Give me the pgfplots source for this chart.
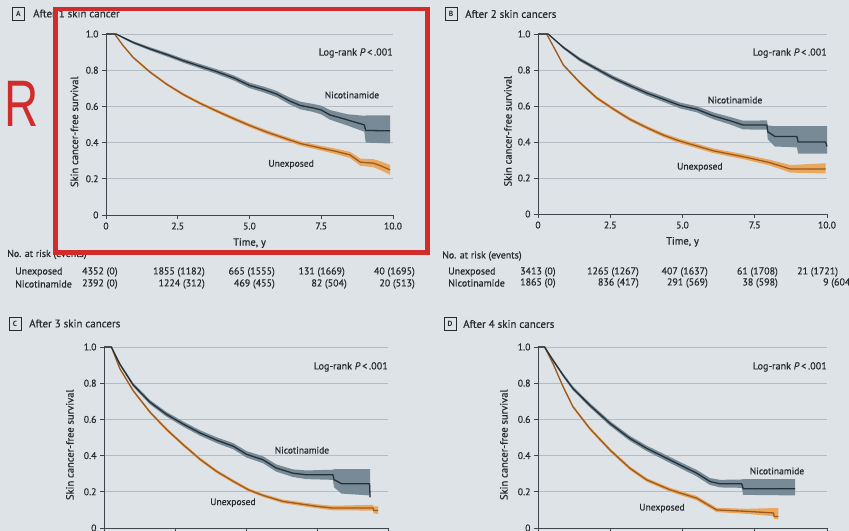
\documentclass[border=0pt]{standalone}
\usepackage{pgfplots}
\pgfplotsset{compat=1.18}
\usepackage{fontspec}
\setmainfont{PT Sans}
\newfontfamily\semib{PT Sans}[FakeBold=0.6]
\newfontfamily\rfont{Liberation Sans}
\definecolor{bgc}{HTML}{DEE3E8}
\definecolor{gridc}{HTML}{B4BBC2}
\definecolor{axisc}{HTML}{40454B}
\definecolor{textc}{HTML}{262B30}
\definecolor{nicline}{HTML}{25313A}
\definecolor{nicband}{HTML}{788A96}
\definecolor{unexline}{HTML}{9B5B23}
\definecolor{unexband}{HTML}{EAA85E}
\definecolor{redc}{HTML}{D22B2B}

\pgfplotsset{
  kmaxis/.style={
    scale only axis, height=181bp,
    xmin=0, xmax=10, ymin=0, ymax=1,
    axis lines=left,
    axis line style={-, draw=axisc, line width=0.8bp},
    xtick={0,2.5,5,7.5,10}, xticklabels={0,2.5,5.0,7.5,10.0},
    ytick={0,0.2,0.4,0.6,0.8,1}, yticklabels={0,0.2,0.4,0.6,0.8,1.0},
    tick align=outside, major tick length=4bp,
    tick style={draw=axisc, line width=0.8bp},
    ymajorgrids, grid style={draw=gridc, line width=0.8bp},
    /pgf/number format/assume math mode=true,
    ticklabel style={font=\semib\fontsize{9.8}{11}\selectfont, text=textc},
    xlabel={Time, y}, ylabel={Skin cancer-free survival},
    label style={font=\semib\fontsize{10.6}{12}\selectfont, text=textc},
    xlabel style={at={(axis description cs:0.5,-0.155)}, anchor=center},
    ylabel style={at={(axis description cs:-0.11,0.46)}, anchor=center},
    clip=false,
  },
  lowpanel/.style={xticklabels={}, xlabel={}},
  nb/.style={fill=nicband, draw=none, forget plot},
  ub/.style={fill=unexband, draw=none, forget plot},
  nl/.style={nicline, line width=1.3bp, line join=round},
  ul/.style={unexline, line width=1.3bp, line join=round},
}
\tikzset{
  curvetxt/.style={font=\semib\fontsize{9.6}{11}\selectfont, text=textc, inner sep=0pt},
  lrtxt/.style={font=\semib\fontsize{10.2}{11}\selectfont, text=textc, inner sep=0pt, anchor=east},
  pbox/.style={draw=textc, line width=0.8bp, minimum width=12bp, minimum height=13bp, inner sep=0pt, font=\fontsize{7.5}{8}\selectfont\bfseries, text=textc},
  ptitle/.style={anchor=west, inner sep=0pt, font=\semib\fontsize{11}{12}\selectfont, text=textc},
  rtxt/.style={inner sep=0pt, font=\semib\fontsize{10}{11}\selectfont, text=textc},
}

\begin{document}
\begin{tikzpicture}
\fill[bgc] (0,0) rectangle (849bp,531bp);

% ---------- Panel A
\begin{axis}[kmaxis, width=287bp, at={(106bp,316bp)}, anchor=south west]
% Nicotinamide 95% CI (upper then lower)
\addplot[nb] coordinates {(0,1) (0.35,1) (0.6,0.985) (0.95,0.960) (1.53,0.927) (2.12,0.896) (2.7,0.863) (3.28,0.834) (3.86,0.805) (4.44,0.772) (5.0,0.731) (5.5,0.709) (5.95,0.685) (6.4,0.649) (6.77,0.626) (7.2,0.614) (7.5,0.604) (7.8,0.580) (8.4,0.557) (9.0,0.548) (9.05,0.550) (9.9,0.550)
 (9.9,0.395) (9.05,0.400) (9.0,0.460) (8.4,0.495) (7.8,0.527) (7.5,0.556) (7.2,0.570) (6.77,0.584) (6.4,0.611) (5.95,0.651) (5.5,0.677) (5.0,0.701) (4.44,0.744) (3.86,0.779) (3.28,0.810) (2.7,0.841) (2.12,0.876) (1.53,0.909) (0.95,0.946) (0.6,0.975) (0.35,1) (0,1)};
% Unexposed 95% CI
\addplot[ub] coordinates {(0,1) (0.3,1) (0.6,0.940) (0.95,0.876) (1.53,0.797) (2.12,0.729) (2.7,0.673) (3.28,0.625) (3.86,0.583) (4.44,0.543) (5.0,0.505) (5.6,0.469) (6.19,0.437) (6.77,0.407) (7.5,0.382) (8.0,0.367) (8.5,0.349) (8.86,0.312) (9.33,0.308) (9.6,0.295) (9.9,0.276)
 (9.9,0.222) (9.6,0.245) (9.33,0.264) (8.86,0.272) (8.5,0.315) (8.0,0.337) (7.5,0.356) (6.77,0.383) (6.19,0.415) (5.6,0.447) (5.0,0.485) (4.44,0.523) (3.86,0.565) (3.28,0.609) (2.7,0.657) (2.12,0.715) (1.53,0.783) (0.95,0.864) (0.6,0.930) (0.3,1) (0,1)};
\addplot[ul] coordinates {(0,1) (0.3,1) (0.6,0.935) (0.95,0.870) (1.53,0.790) (2.12,0.722) (2.7,0.665) (3.28,0.617) (3.86,0.574) (4.44,0.533) (5.0,0.495) (5.6,0.458) (6.19,0.426) (6.77,0.395) (7.5,0.369) (8.0,0.352) (8.5,0.332) (8.86,0.292) (9.33,0.286) (9.6,0.270) (9.9,0.249)};
\addplot[nl] coordinates {(0,1) (0.35,1) (0.6,0.980) (0.95,0.953) (1.53,0.918) (2.12,0.886) (2.7,0.852) (3.28,0.822) (3.86,0.792) (4.44,0.758) (5.0,0.716) (5.5,0.693) (5.95,0.668) (6.4,0.630) (6.77,0.605) (7.2,0.592) (7.5,0.580) (7.8,0.553) (8.4,0.526) (9.0,0.498) (9.05,0.467) (9.9,0.465)};
\node[lrtxt] at (axis cs:10,0.895) {Log-rank \textit{P}\,<\,.001};
\node[curvetxt] at (axis cs:8.57,0.663) {Nicotinamide};
\node[curvetxt] at (axis cs:6.45,0.28) {Unexposed};
\end{axis}

% ---------- Panel B
\begin{axis}[kmaxis, width=289bp, height=180bp, at={(538bp,317bp)}, anchor=south west,
  ylabel style={at={(axis description cs:-0.104,0.46)}}]
\addplot[nb] coordinates {(0,1) (0.35,1) (0.88,0.932) (1.45,0.868) (2.03,0.817) (2.6,0.768) (3.18,0.726) (3.76,0.686) (4.34,0.653) (4.91,0.619) (5.49,0.599) (6.07,0.564) (6.65,0.539) (7.1,0.518) (7.92,0.520) (7.95,0.492) (8.2,0.488) (8.96,0.488) (9.0,0.488) (9.95,0.488) (10.0,0.488)
 (10.0,0.335) (9.95,0.335) (9.0,0.335) (8.96,0.370) (8.2,0.375) (7.95,0.415) (7.92,0.468) (7.1,0.470) (6.65,0.497) (6.07,0.526) (5.49,0.565) (4.91,0.587) (4.34,0.623) (3.76,0.658) (3.18,0.700) (2.6,0.744) (2.03,0.795) (1.45,0.848) (0.88,0.918) (0.35,1) (0,1)};
\addplot[ub] coordinates {(0,1) (0.3,1) (0.88,0.834) (1.45,0.738) (2.03,0.654) (2.6,0.593) (3.18,0.536) (3.76,0.490) (4.34,0.449) (4.91,0.417) (6.07,0.364) (7.23,0.328) (8.03,0.301) (8.73,0.272) (9.95,0.282)
 (9.95,0.225) (8.73,0.230) (8.03,0.269) (7.23,0.300) (6.07,0.338) (4.91,0.393) (4.34,0.427) (3.76,0.470) (3.18,0.516) (2.6,0.575) (2.03,0.636) (1.45,0.722) (0.88,0.820) (0.3,1) (0,1)};
\addplot[ul] coordinates {(0,1) (0.3,1) (0.88,0.827) (1.45,0.730) (2.03,0.645) (2.6,0.584) (3.18,0.526) (3.76,0.480) (4.34,0.438) (4.91,0.405) (6.07,0.351) (7.23,0.314) (8.03,0.285) (8.73,0.250) (9.95,0.250)};
\addplot[nl] coordinates {(0,1) (0.35,1) (0.88,0.925) (1.45,0.858) (2.03,0.806) (2.6,0.756) (3.18,0.713) (3.76,0.672) (4.34,0.638) (4.91,0.603) (5.49,0.582) (6.07,0.545) (6.65,0.518) (7.1,0.494) (7.92,0.494) (7.95,0.457) (8.2,0.430) (8.96,0.430) (9.0,0.400) (9.95,0.400) (10.0,0.375)};
\node[lrtxt] at (axis cs:10,0.894) {Log-rank \textit{P}\,<\,.001};
\node[curvetxt] at (axis cs:6.82,0.633) {Nicotinamide};
\node[curvetxt] at (axis cs:5.6,0.26) {Unexposed};
\end{axis}

% ---------- Panel C
\begin{axis}[kmaxis, lowpanel, width=284bp, at={(104bp,3bp)}, anchor=south west,
  ylabel style={at={(axis description cs:-0.12,0.46)}}]
\addplot[nb] coordinates {(0,1) (0.26,1) (0.56,0.912) (1.03,0.800) (1.62,0.707) (2.2,0.641) (2.79,0.588) (3.38,0.540) (3.97,0.501) (4.55,0.469) (5.02,0.425) (5.6,0.396) (6.07,0.351) (6.65,0.324) (7.12,0.318) (8.06,0.322) (8.1,0.325) (8.36,0.325) (9.35,0.325) (9.37,0.325)
 (9.37,0.165) (9.35,0.180) (8.36,0.190) (8.1,0.225) (8.06,0.266) (7.12,0.270) (6.65,0.282) (6.07,0.311) (5.6,0.358) (5.02,0.389) (4.55,0.435) (3.97,0.469) (3.38,0.510) (2.79,0.560) (2.2,0.615) (1.62,0.683) (1.03,0.780) (0.56,0.898) (0.26,1) (0,1)};
\addplot[ub] coordinates {(0,1) (0.26,1) (0.56,0.886) (1.03,0.765) (1.62,0.648) (2.2,0.554) (2.79,0.469) (3.38,0.389) (3.97,0.321) (4.55,0.267) (5.1,0.219) (5.6,0.189) (6.3,0.157) (7.48,0.131) (8.06,0.123) (9.47,0.128) (9.5,0.120) (9.65,0.120)
 (9.65,0.078) (9.5,0.080) (9.47,0.096) (8.06,0.098) (7.48,0.109) (6.3,0.137) (5.6,0.171) (5.1,0.201) (4.55,0.249) (3.97,0.303) (3.38,0.371) (2.79,0.451) (2.2,0.536) (1.62,0.632) (1.03,0.751) (0.56,0.874) (0.26,1) (0,1)};
\addplot[ul] coordinates {(0,1) (0.26,1) (0.56,0.880) (1.03,0.758) (1.62,0.640) (2.2,0.545) (2.79,0.460) (3.38,0.380) (3.97,0.312) (4.55,0.258) (5.1,0.210) (5.6,0.180) (6.3,0.147) (7.48,0.120) (8.06,0.110) (9.47,0.110) (9.5,0.097) (9.65,0.097)};
\addplot[nl] coordinates {(0,1) (0.26,1) (0.56,0.905) (1.03,0.790) (1.62,0.695) (2.2,0.628) (2.79,0.574) (3.38,0.525) (3.97,0.485) (4.55,0.452) (5.02,0.407) (5.6,0.377) (6.07,0.331) (6.65,0.303) (7.12,0.294) (8.06,0.294) (8.1,0.267) (8.36,0.245) (9.35,0.245) (9.37,0.170)};
\node[lrtxt] at (axis cs:10,0.89) {Log-rank \textit{P}\,<\,.001};
\node[curvetxt] at (axis cs:6.97,0.43) {Nicotinamide};
\node[curvetxt] at (axis cs:4.54,0.14) {Unexposed};
\end{axis}

% ---------- Panel D
\begin{axis}[kmaxis, lowpanel, width=289bp, at={(538bp,3bp)}, anchor=south west,
  ylabel style={at={(axis description cs:-0.118,0.46)}}]
\addplot[nb] coordinates {(0,1) (0.23,1) (0.52,0.934) (0.87,0.853) (1.21,0.782) (1.79,0.691) (2.49,0.591) (3.18,0.509) (3.76,0.455) (4.34,0.410) (5.03,0.356) (5.49,0.321) (5.95,0.276) (6.3,0.266) (7.05,0.268) (7.1,0.270) (8.9,0.270)
 (8.9,0.180) (7.1,0.183) (7.05,0.222) (6.3,0.224) (5.95,0.238) (5.49,0.285) (5.03,0.322) (4.34,0.378) (3.76,0.425) (3.18,0.481) (2.49,0.565) (1.79,0.667) (1.21,0.760) (0.87,0.835) (0.52,0.920) (0.23,1) (0,1)};
\addplot[ub] coordinates {(0,1) (0.23,1) (0.52,0.914) (0.87,0.787) (1.21,0.678) (1.79,0.559) (2.49,0.441) (3.18,0.340) (3.76,0.276) (4.57,0.222) (5.49,0.177) (6.18,0.112) (7.23,0.106) (8.15,0.110) (8.17,0.110) (8.32,0.110)
 (8.32,0.048) (8.17,0.050) (8.15,0.065) (7.23,0.078) (6.18,0.088) (5.49,0.153) (4.57,0.200) (3.76,0.256) (3.18,0.320) (2.49,0.421) (1.79,0.541) (1.21,0.662) (0.87,0.773) (0.52,0.902) (0.23,1) (0,1)};
\addplot[ul] coordinates {(0,1) (0.23,1) (0.52,0.908) (0.87,0.780) (1.21,0.670) (1.79,0.550) (2.49,0.431) (3.18,0.330) (3.76,0.266) (4.57,0.211) (5.49,0.165) (6.18,0.100) (7.23,0.092) (8.15,0.083) (8.17,0.064) (8.32,0.064)};
\addplot[nl] coordinates {(0,1) (0.23,1) (0.52,0.927) (0.87,0.844) (1.21,0.771) (1.79,0.679) (2.49,0.578) (3.18,0.495) (3.76,0.440) (4.34,0.394) (5.03,0.339) (5.49,0.303) (5.95,0.257) (6.3,0.244) (7.05,0.244) (7.1,0.217) (8.9,0.217)};
\node[lrtxt] at (axis cs:10,0.89) {Log-rank \textit{P}\,<\,.001};
\node[curvetxt] at (axis cs:8.27,0.315) {Nicotinamide};
\node[curvetxt] at (axis cs:4.29,0.11) {Unexposed};
\end{axis}

% ---------- Titles
\node[pbox] at (18.5bp,517.5bp) {A};
\node[ptitle] at (33bp,517.5bp) {After 1 skin cancer};
\node[pbox] at (451bp,517bp) {B};
\node[ptitle] at (465bp,517bp) {After 2 skin cancers};
\node[pbox] at (15bp,207.5bp) {C};
\node[ptitle] at (29bp,207.5bp) {After 3 skin cancers};
\node[pbox] at (450bp,207bp) {D};
\node[ptitle] at (463bp,207bp) {After 4 skin cancers};

% ---------- Risk table A
\node[rtxt, anchor=west] at (7bp,276.5bp) {No. at risk (events)};
\node[rtxt, anchor=west] at (15bp,259bp) {Unexposed};
\node[rtxt, anchor=west] at (82bp,259bp) {4352 (0)};
\node[rtxt, anchor=east] at (205bp,259bp) {1855 (1182)};
\node[rtxt, anchor=east] at (275bp,259bp) {665 (1555)};
\node[rtxt, anchor=east] at (345bp,259bp) {131 (1669)};
\node[rtxt, anchor=east] at (415bp,259bp) {40 (1695)};
\node[rtxt, anchor=west] at (15bp,247bp) {Nicotinamide};
\node[rtxt, anchor=west] at (82bp,247bp) {2392 (0)};
\node[rtxt, anchor=east] at (205bp,247bp) {1224 (312)};
\node[rtxt, anchor=east] at (275bp,247bp) {469 (455)};
\node[rtxt, anchor=east] at (347bp,247bp) {82 (504)};
\node[rtxt, anchor=east] at (415bp,247bp) {20 (513)};

% ---------- Risk table B
\node[rtxt, anchor=west] at (442bp,275bp) {No. at risk (events)};
\node[rtxt, anchor=west] at (448bp,259bp) {Unexposed};
\node[rtxt, anchor=west] at (520bp,259bp) {3413 (0)};
\node[rtxt, anchor=east] at (639bp,259bp) {1265 (1267)};
\node[rtxt, anchor=east] at (708bp,259bp) {407 (1637)};
\node[rtxt, anchor=east] at (778bp,259bp) {61 (1708)};
\node[rtxt, anchor=west] at (797bp,259bp) {21 (1721)};
\node[rtxt, anchor=west] at (448bp,248bp) {Nicotinamide};
\node[rtxt, anchor=west] at (520bp,248bp) {1865 (0)};
\node[rtxt, anchor=east] at (639bp,248bp) {836 (417)};
\node[rtxt, anchor=east] at (708bp,248bp) {291 (569)};
\node[rtxt, anchor=east] at (778bp,248bp) {38 (598)};
\node[rtxt, anchor=west] at (823bp,248bp) {9 (604)};

% ---------- Annotation
\node[inner sep=0pt, text=redc, font=\rfont\fontsize{66}{66}\selectfont] at (21.5bp,427bp) {\scalebox{0.72}[1]{R}};
\draw[redc, line width=4.5bp] (55.5bp,522bp) rectangle (427.5bp,278.5bp);

\pgfresetboundingbox
\useasboundingbox (0,0) rectangle (849bp,531bp);
\end{tikzpicture}
\end{document}
